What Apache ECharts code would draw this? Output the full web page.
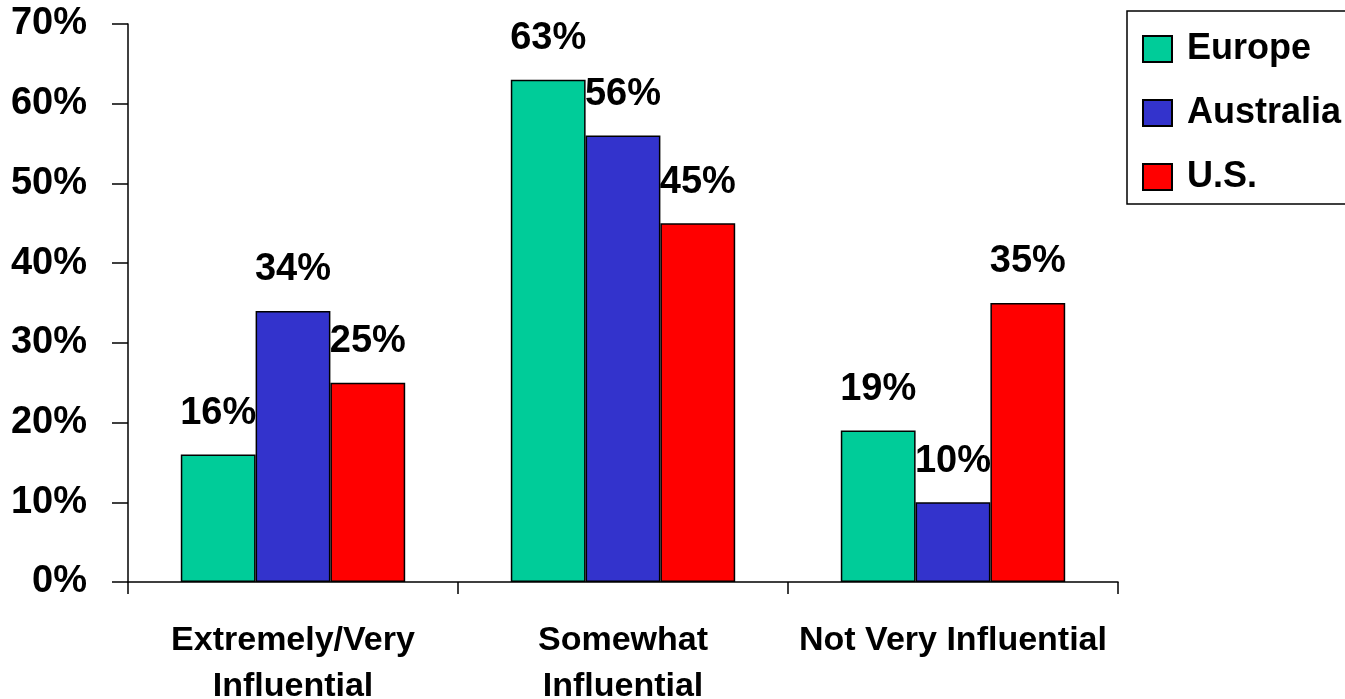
<!DOCTYPE html>
<html>
<head>
<meta charset="utf-8">
<script src="https://cdn.jsdelivr.net/npm/echarts@6/dist/echarts.min.js"></script>
<style>
  html, body { margin: 0; padding: 0; background: #ffffff; }
  #chart { width: 1345px; height: 699px; }
</style>
</head>
<body>
<div id="chart"></div>
<script>
// Influence ratings by region (share of respondents, %)
const categories = ['Extremely/Very\nInfluential', 'Somewhat\nInfluential', 'Not Very Influential'];
const europe = [16, 63, 19];
const australia = [34, 56, 10];
const us = [25, 45, 35];
const yTicks = { min: 0, max: 70, interval: 10 };

const narrow = "'Liberation Sans Narrow', 'Arial Narrow', 'Liberation Sans', Arial, sans-serif";
const wide = "'Liberation Sans', Arial, sans-serif";

function barSeries(name, values, color) {
  return {
    name: name,
    type: 'bar',
    data: values,
    barGap: '0%',
    barCategoryGap: '32%',
    itemStyle: { color: color, borderColor: '#000000', borderWidth: 1.5 },
    label: {
      show: true,
      position: 'top',
      distance: 22,
      formatter: '{c}%',
      color: '#000000',
      fontFamily: narrow,
      fontWeight: 'bold',
      fontSize: 38
    }
  };
}

const chart = echarts.init(document.getElementById('chart'), null, { renderer: 'canvas' });
chart.setOption({
  animation: false,
  backgroundColor: '#ffffff',
  grid: { left: 128, right: 227, top: 24, bottom: 117, containLabel: false, outerBoundsMode: 'none' },
  legend: {
    orient: 'vertical',
    left: 1127,
    top: 11,
    padding: [20, 30, 9, 15],
    itemGap: 28,
    itemWidth: 29,
    itemHeight: 26,
    icon: 'rect',
    borderColor: '#000000',
    borderWidth: 1.5,
    backgroundColor: '#ffffff',
    textStyle: {
      fontFamily: wide,
      fontWeight: 'bold',
      fontSize: 36,
      color: '#000000',
      padding: [0, 0, 0, 10]
    },
    data: ['Europe', 'Australia', 'U.S.']
  },
  xAxis: {
    type: 'category',
    data: categories,
    axisLine: { lineStyle: { color: '#000000', width: 1.5 } },
    axisTick: { show: true, length: 12, lineStyle: { color: '#000000', width: 1.5 } },
    axisLabel: {
      margin: 36,
      color: '#000000',
      fontFamily: wide,
      fontWeight: 'bold',
      fontSize: 34,
      lineHeight: 46,
      interval: 0
    }
  },
  yAxis: {
    type: 'value',
    min: yTicks.min,
    max: yTicks.max,
    interval: yTicks.interval,
    axisLine: { show: true, lineStyle: { color: '#000000', width: 1.5 } },
    axisTick: { show: true, length: 16, lineStyle: { color: '#000000', width: 1.5 } },
    splitLine: { show: false },
    axisLabel: {
      margin: 41,
      formatter: '{value}%',
      color: '#000000',
      fontFamily: narrow,
      fontWeight: 'bold',
      fontSize: 38
    }
  },
  series: [
    barSeries('Europe', europe, '#00CC99'),
    barSeries('Australia', australia, '#3333CC'),
    barSeries('U.S.', us, '#FF0000')
  ]
});
</script>
</body>
</html>
